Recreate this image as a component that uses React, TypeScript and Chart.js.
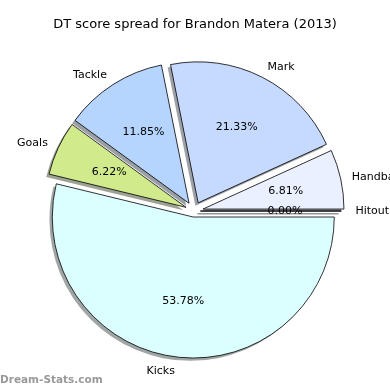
import React, { useEffect, useRef } from "react";
import { Chart, registerables } from "chart.js";

Chart.register(...registerables);

const TITLE = "DT score spread for Brandon Matera (2013)";
const WATERMARK = "Dream-Stats.com";
// ordered clockwise from east (matplotlib's counter-clockwise order reversed)
const categories = ["Kicks", "Goals", "Tackle", "Mark", "Handball", "Hitout"];
const shares = [53.78, 6.22, 11.85, 21.33, 6.81, 0.0];

// styling (not data)
const explode = [0.043, 0.062, 0.065, 0.065, 0.065, 0.045];
const labelDistance = [1.1, 1.08, 1.08, 1.08, 1.08, 1.1];
const colors = ["#dbffff", "#d0ea8c", "#b5d5ff", "#c6d9ff", "#eaf0ff", "#f0f0ff"];

function shadowColor(hex: string) {
  const n = parseInt(hex.slice(1), 16);
  const r = Math.round(((n >> 16) & 255) * 0.3);
  const g = Math.round(((n >> 8) & 255) * 0.3);
  const b = Math.round((n & 255) * 0.3);
  return `rgba(${r},${g},${b},0.5)`;
}

const piePlugin = {
  id: "mplPie",
  beforeDatasetsDraw(chart: any) {
    const ctx = chart.ctx as CanvasRenderingContext2D;
    const meta = chart.getDatasetMeta(0);
    const items = meta.data.map((arc: any, i: number) => {
      const p = arc.getProps(["x", "y", "startAngle", "endAngle", "outerRadius"], true);
      const mid = (p.startAngle + p.endAngle) / 2;
      const d = explode[i] * p.outerRadius;
      return {
        ...p,
        mid,
        ex: p.x + Math.cos(mid) * d,
        ey: p.y + Math.sin(mid) * d,
      };
    });
    const path = (it: any, dx: number, dy: number) => {
      ctx.beginPath();
      ctx.moveTo(it.ex + dx, it.ey + dy);
      if (it.endAngle - it.startAngle <= 1e-6) {
        ctx.lineTo(
          it.ex + dx + Math.cos(it.startAngle) * it.outerRadius,
          it.ey + dy + Math.sin(it.startAngle) * it.outerRadius
        );
      } else {
        ctx.arc(it.ex + dx, it.ey + dy, it.outerRadius, it.startAngle, it.endAngle);
      }
      ctx.closePath();
    };
    ctx.save();
    // shadows
    items.forEach((it: any, i: number) => {
      const off = 0.02 * it.outerRadius;
      path(it, -off, off);
      ctx.fillStyle = shadowColor(colors[i]);
      ctx.strokeStyle = shadowColor(colors[i]);
      ctx.lineWidth = 1;
      ctx.fill();
      if (it.endAngle - it.startAngle <= 1e-6) ctx.stroke();
    });
    // wedges
    items.forEach((it: any, i: number) => {
      path(it, 0, 0);
      ctx.fillStyle = colors[i];
      ctx.fill();
      ctx.strokeStyle = "#000";
      ctx.lineWidth = 0.8;
      ctx.stroke();
    });
    // labels
    ctx.fillStyle = "#000";
    ctx.textBaseline = "middle";
    ctx.font = "11px 'DejaVu Sans'";
    items.forEach((it: any, i: number) => {
      const c = Math.cos(it.mid);
      const s = Math.sin(it.mid);
      const lx = it.ex + c * it.outerRadius * labelDistance[i];
      const ly = it.ey + s * it.outerRadius * labelDistance[i];
      ctx.textAlign = c > 0 ? "left" : "right";
      ctx.fillText(categories[i], lx, ly);
      const px = it.ex + c * it.outerRadius * 0.6;
      const py = it.ey + s * it.outerRadius * 0.6;
      ctx.textAlign = "center";
      ctx.fillText(shares[i].toFixed(2) + "%", px, py);
    });
    ctx.restore();
    return false;
  },
  afterDraw(chart: any) {
    const ctx = chart.ctx as CanvasRenderingContext2D;
    ctx.save();
    ctx.fillStyle = "#000";
    ctx.font = "13px 'DejaVu Sans'";
    ctx.textAlign = "center";
    ctx.textBaseline = "middle";
    ctx.fillText(TITLE, 195, 25);
    ctx.fillStyle = "#999999";
    ctx.font = "bold 10.5px 'DejaVu Sans'";
    ctx.textAlign = "left";
    ctx.fillText(WATERMARK, 0, 380);
    ctx.restore();
  },
};

export default function App() {
  const ref = useRef<HTMLCanvasElement>(null);
  useEffect(() => {
    const chart = new Chart(ref.current!, {
      type: "pie",
      data: {
        labels: categories,
        datasets: [
          {
            data: shares,
            backgroundColor: colors,
            borderColor: "#000",
            borderWidth: 0,
          },
        ],
      },
      options: {
        animation: false,
        responsive: false,
        events: [],
        rotation: 90,
        radius: 141,
        layout: { padding: { left: 0, right: 2, top: 32, bottom: 0 } },
        plugins: { legend: { display: false }, tooltip: { enabled: false }, title: { display: false } },
      },
      plugins: [piePlugin],
    });
    return () => chart.destroy();
  }, []);
  return (
    <div style={{ position: "absolute", left: 0, top: 0, width: 390, height: 390, background: "#fff" }}>
      <canvas ref={ref} width={390} height={390} />
    </div>
  );
}
